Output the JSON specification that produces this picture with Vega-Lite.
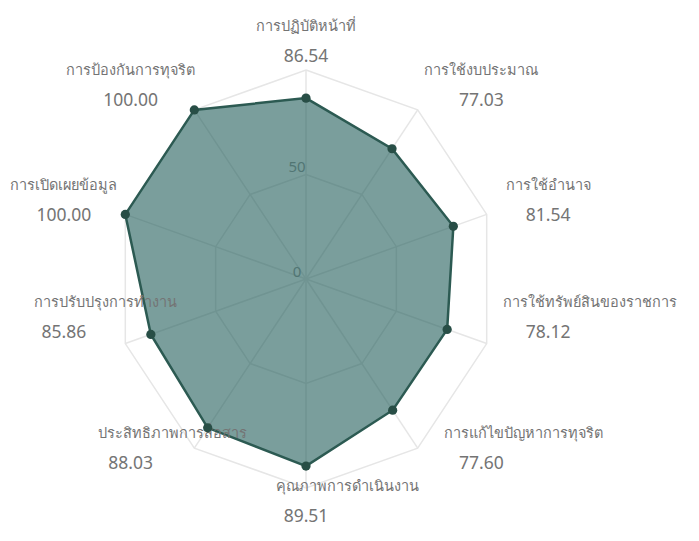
{
  "$schema": "https://vega.github.io/schema/vega-lite/v6.json",
  "width": 699,
  "height": 541,
  "padding": 0,
  "autosize": {"type": "none"},
  "background": "white",
  "config": {"view": {"stroke": null}, "font": "Noto Sans"},
  "datasets": {
    "scores": [
      {"name": "การปฏิบัติหน้าที่", "value": 86.54},
      {"name": "การใช้งบประมาณ", "value": 77.03},
      {"name": "การใช้อำนาจ", "value": 81.54},
      {"name": "การใช้ทรัพย์สินของราชการ", "value": 78.12},
      {"name": "การแก้ไขปัญหาการทุจริต", "value": 77.60},
      {"name": "คุณภาพการดำเนินงาน", "value": 89.51},
      {"name": "ประสิทธิภาพการสื่อสาร", "value": 88.03},
      {"name": "การปรับปรุงการทำงาน", "value": 85.86},
      {"name": "การเปิดเผยข้อมูล", "value": 100.00},
      {"name": "การป้องกันการทุจริต", "value": 100.00}
    ],
    "ticks": [{"tick": 0}, {"tick": 50}]
  },
  "layer": [
    {
      "data": {"name": "scores"},
      "transform": [
        {"window": [{"op": "row_number", "as": "idx"}]},
        {"calculate": "(datum.idx - 1) * PI / 5", "as": "ang"},
        {"calculate": "100 * sin(datum.ang)", "as": "gx100"},
        {"calculate": "100 * cos(datum.ang)", "as": "gy100"},
        {"calculate": "50 * sin(datum.ang)", "as": "gx50"},
        {"calculate": "50 * cos(datum.ang)", "as": "gy50"},
        {"calculate": "0", "as": "z0"}
      ],
      "layer": [
        {
          "mark": {"type": "line", "interpolate": "linear-closed", "stroke": "#e6e6e6", "strokeWidth": 1.5},
          "encoding": {
            "x": {"field": "gx100", "type": "quantitative", "scale": {"domain": [-161.05, 206.84], "nice": false, "zero": false}, "axis": null},
            "y": {"field": "gy100", "type": "quantitative", "scale": {"domain": [-125.36, 133.49], "nice": false, "zero": false}, "axis": null},
            "order": {"field": "idx", "type": "quantitative"}
          }
        },
        {
          "mark": {"type": "line", "interpolate": "linear-closed", "stroke": "#e6e6e6", "strokeWidth": 1.5},
          "encoding": {
            "x": {"field": "gx50", "type": "quantitative"},
            "y": {"field": "gy50", "type": "quantitative"},
            "order": {"field": "idx", "type": "quantitative"}
          }
        },
        {
          "mark": {"type": "rule", "stroke": "#e6e6e6", "strokeWidth": 1.5},
          "encoding": {
            "x": {"field": "z0", "type": "quantitative"},
            "y": {"field": "z0", "type": "quantitative"},
            "x2": {"field": "gx100"},
            "y2": {"field": "gy100"}
          }
        }
      ]
    },
    {
      "data": {"name": "ticks"},
      "transform": [{"calculate": "0", "as": "z0"}],
      "mark": {"type": "text", "fontSize": 15, "color": "#9a9a9a", "dx": -9, "dy": -7, "align": "center", "baseline": "middle"},
      "encoding": {
        "x": {"field": "z0", "type": "quantitative"},
        "y": {"field": "tick", "type": "quantitative"},
        "text": {"field": "tick", "type": "quantitative"}
      }
    },
    {
      "data": {"name": "scores"},
      "transform": [
        {"window": [{"op": "row_number", "as": "idx"}]},
        {"calculate": "(datum.idx - 1) * PI / 5", "as": "ang"},
        {"calculate": "datum.value * sin(datum.ang)", "as": "px"},
        {"calculate": "datum.value * cos(datum.ang)", "as": "py"},
        {"calculate": "sin(datum.ang) * (abs(sin(datum.ang)) > 0.9 ? 134 : 157)", "as": "vx"},
        {"calculate": "datum.vx + (cos(datum.ang) < -0.01 ? 22 : 0)", "as": "nx"},
        {"calculate": "110 * cos(datum.ang) + (cos(datum.ang) < 0 ? 13 * pow(sin(datum.ang), 2) : 0)", "as": "ly"}
      ],
      "layer": [
        {
          "mark": {"type": "line", "interpolate": "linear-closed", "fill": "#225e5a", "fillOpacity": 0.6, "stroke": "#2c5a52", "strokeWidth": 2.5},
          "encoding": {
            "x": {"field": "px", "type": "quantitative"},
            "y": {"field": "py", "type": "quantitative"},
            "order": {"field": "idx", "type": "quantitative"}
          }
        },
        {
          "mark": {"type": "text", "fontSize": 14.5, "color": "#747474", "align": "center", "baseline": "middle", "dy": -22},
          "encoding": {
            "x": {"field": "nx", "type": "quantitative"},
            "y": {"field": "ly", "type": "quantitative"},
            "text": {"field": "name", "type": "nominal"}
          }
        },
        {
          "mark": {"type": "text", "fontSize": 17.5, "color": "#747474", "align": "center", "baseline": "middle", "dy": 8},
          "encoding": {
            "x": {"field": "vx", "type": "quantitative"},
            "y": {"field": "ly", "type": "quantitative"},
            "text": {"field": "value", "type": "quantitative", "format": ".2f"}
          }
        },
        {
          "mark": {"type": "point", "filled": true, "size": 85, "color": "#284e46", "opacity": 1},
          "encoding": {
            "x": {"field": "px", "type": "quantitative"},
            "y": {"field": "py", "type": "quantitative"}
          }
        }
      ]
    }
  ]
}
